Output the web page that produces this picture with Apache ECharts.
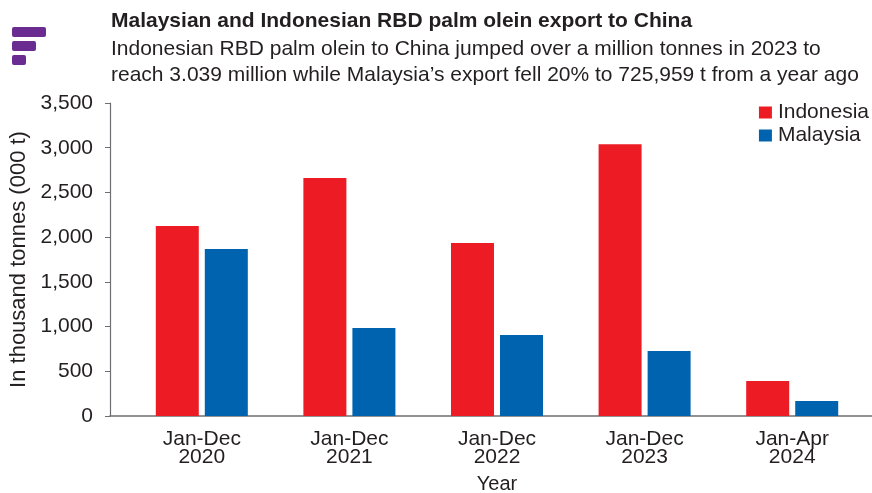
<!DOCTYPE html>
<html><head><meta charset="utf-8">
<script src="https://cdn.jsdelivr.net/npm/echarts@6/dist/echarts.min.js"></script>
<style>html,body{margin:0;padding:0;background:#fff}#c{width:872px;height:493px}</style>
</head><body><div id="c"></div>
<script>
const categories = ['Jan-Dec\n2020','Jan-Dec\n2021','Jan-Dec\n2022','Jan-Dec\n2023','Jan-Apr\n2024'];
const indonesia = [2125, 2661, 1934, 3039, 391];
const malaysia = [1867, 984, 906, 726, 168];
const yTicks = {min: 0, max: 3500, interval: 500};
const titleText = 'Malaysian and Indonesian RBD palm olein export to China';
const subText = 'Indonesian RBD palm olein to China jumped over a million tonnes in 2023 to\nreach 3.039 million while Malaysia\u2019s export fell 20% to 725,959 t from a year ago';

const chart = echarts.init(document.getElementById('c'), null, {renderer:'canvas'});
const font = 'Liberation Sans, Arial, sans-serif';
const txt = '#231f20';
chart.setOption({
  animation:false,
  textStyle:{fontFamily:font},
  title:{
    text:titleText, subtext:subText, left:106, top:6, itemGap:4,
    textStyle:{fontSize:21, fontWeight:'bold', color:txt, fontFamily:font},
    subtextStyle:{fontSize:21, color:txt, lineHeight:26, fontFamily:font}
  },
  legend:{
    right:-2, top:97, orient:'vertical', itemWidth:13, itemHeight:12, itemGap:2,
    icon:'rect', textStyle:{fontSize:21, color:txt, fontFamily:font, padding:[0,0,0,1]},
    data:['Indonesia','Malaysia']
  },
  grid:[
    {left:128, right:6, top:103, bottom:77, outerBoundsMode:'none', containLabel:false},
    {left:110, right:0, top:103, bottom:77, outerBoundsMode:'none', containLabel:false}
  ],
  xAxis:[
    {type:'category', gridIndex:0, data:categories,
     axisLine:{show:false}, axisTick:{show:false},
     axisLabel:{fontSize:21, color:txt, lineHeight:18, margin:14, fontFamily:font},
     name:'Year', nameLocation:'middle', nameGap:58,
     nameTextStyle:{fontSize:20, color:txt, fontFamily:font}},
    {type:'category', gridIndex:1, data:categories,
     axisLine:{show:true, lineStyle:{color:'#6d6e71', width:1.5}}, axisTick:{show:false}, axisLabel:{show:false}}
  ],
  yAxis:[
    {type:'value', gridIndex:0, min:yTicks.min, max:yTicks.max, interval:yTicks.interval, offset:18,
     splitLine:{show:false},
     axisLine:{show:true, lineStyle:{color:'#6d6e71', width:1.2}},
     axisTick:{show:true, length:5, lineStyle:{color:'#6d6e71'}},
     axisLabel:{fontSize:21, color:txt, margin:17, fontFamily:font,
       formatter:v=>v.toLocaleString('en-US')},
     name:'In thousand tonnes (000 t)', nameLocation:'middle', nameGap:78, nameRotate:90,
     nameTextStyle:{fontSize:22, color:txt, fontFamily:font}},
    {type:'value', gridIndex:1, show:false, min:0, max:3500}
  ],
  series:[
    {name:'Indonesia', type:'bar', xAxisIndex:0, yAxisIndex:0, data:indonesia, barWidth:43, barGap:'14%',
     itemStyle:{color:'#ed1c24'}},
    {name:'Malaysia', type:'bar', xAxisIndex:0, yAxisIndex:0, data:malaysia, barWidth:43, barGap:'14%',
     itemStyle:{color:'#0063b0'}}
  ],
  graphic:[
    {type:'rect', shape:{x:12,y:27,width:34,height:10,r:2}, style:{fill:'#6b2c91'}},
    {type:'rect', shape:{x:12,y:41,width:24,height:10,r:2}, style:{fill:'#6b2c91'}},
    {type:'rect', shape:{x:12,y:55,width:14,height:10,r:2}, style:{fill:'#6b2c91'}}
  ]
});
</script></body></html>
